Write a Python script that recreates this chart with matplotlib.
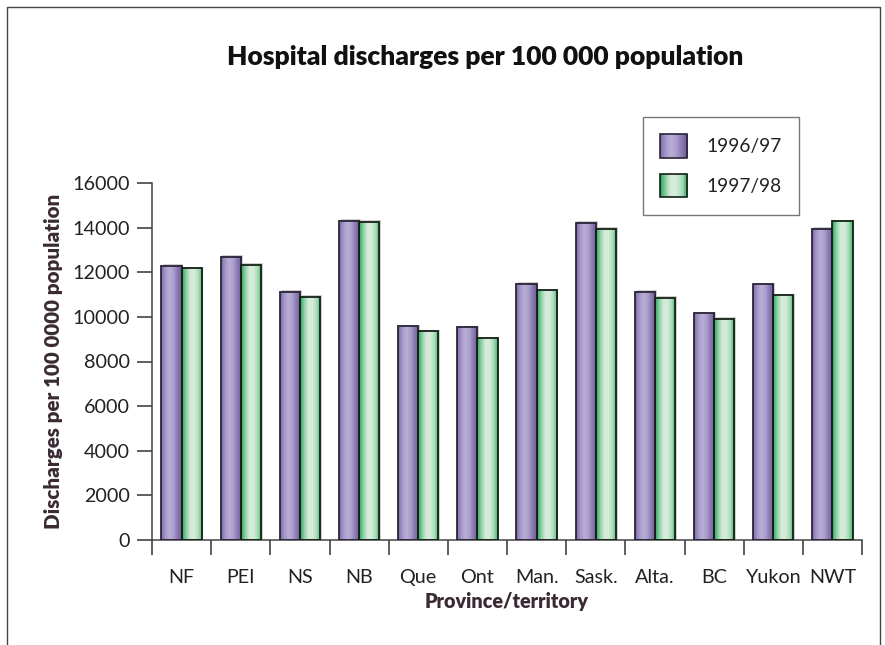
import numpy as np
import matplotlib
matplotlib.use("Agg")
import matplotlib.pyplot as plt
from matplotlib.colors import LinearSegmentedColormap
from matplotlib.patches import Rectangle
from matplotlib.legend_handler import HandlerBase
from matplotlib.lines import Line2D

categories = ["NF", "PEI", "NS", "NB", "Que", "Ont", "Man.", "Sask.", "Alta.", "BC", "Yukon", "NWT"]
series_names = ["1996/97", "1997/98"]
values_9697 = [12300, 12700, 11130, 14310, 9580, 9550, 11490, 14220, 11130, 10160, 11460, 13950]
values_9798 = [12170, 12340, 10900, 14270, 9370, 9040, 11190, 13950, 10860, 9920, 10970, 14300]
yticks = [0, 2000, 4000, 6000, 8000, 10000, 12000, 14000, 16000]

title = "Hospital discharges per 100 000 population"
ylabel = "Discharges per 100 0000 population"
xlabel = "Province/territory"

purple_stops = ["#7d6aa6", "#a597c8", "#b9aed6", "#ab9fcc", "#8a78b2", "#6e5c98"]
green_stops = ["#22a75e", "#8fd0a6", "#d3ebd9", "#d5ecd9", "#a9dcb8", "#3fb374"]
cmaps = [LinearSegmentedColormap.from_list("p", purple_stops),
         LinearSegmentedColormap.from_list("g", green_stops)]
edgecols = ["#2a2438", "#152015"]
label_col = "#3a2a33"

plt.rcParams['font.family'] = ['Lato', 'DejaVu Sans']

fig = plt.figure(figsize=(8.85, 6.45), dpi=100)
ax = fig.add_axes([152/885, 1-540/645, (862-152)/885, (540-183)/645])

x = np.arange(len(categories))
w = 0.34
grad = np.linspace(0, 1, 64).reshape(1, -1)

for k, vals in enumerate([values_9697, values_9798]):
    offs = -w/2 if k == 0 else w/2
    bars = ax.bar(x + offs, vals, width=w, facecolor="none", edgecolor=edgecols[k],
                  linewidth=1.3, zorder=3)
    for b in bars:
        bx, by = b.get_x(), b.get_y()
        bw, bh = b.get_width(), b.get_height()
        ax.add_patch(Rectangle((bx + 0.03, by), bw, bh + 60, facecolor="#d0d0d0",
                               edgecolor="none", zorder=1))
        ax.imshow(grad, cmap=cmaps[k], aspect="auto", extent=(bx, bx + bw, by, by + bh),
                  zorder=2, interpolation="bilinear")

ax.set_xlim(-0.5, len(categories) - 0.5)
ax.set_ylim(0, 16000)
ax.set_yticks(yticks)
ax.set_yticklabels([str(v) for v in yticks])
ax.set_xticks(np.arange(len(categories) + 1) - 0.5)
ax.set_xticklabels([])
ax.set_xticks(x, minor=True)
ax.set_xticklabels(categories, minor=True)

ax.tick_params(axis="y", which="major", length=11, width=1.1, direction="out",
               labelsize=14.2, pad=5, color="#333333", labelcolor="#222222")
ax.tick_params(axis="x", which="major", length=11, width=1.1, direction="out", color="#333333")
ax.tick_params(axis="x", which="minor", length=0, labelsize=14.2, pad=21, labelcolor="#222222")

for s in ["top", "right"]:
    ax.spines[s].set_visible(False)
for s in ["left", "bottom"]:
    ax.spines[s].set_color("#444444")
    ax.spines[s].set_linewidth(1.1)

ax.set_ylabel(ylabel, fontsize=14.8, fontweight="heavy", labelpad=7, color=label_col)
ax.set_xlabel(xlabel, fontsize=14.2, fontweight="heavy", labelpad=4, color=label_col)

fig.text(485/885, 1-57/645, title, fontsize=19, fontweight="heavy", ha="center", va="center",
         color="#111111")


class GradHandler(HandlerBase):
    def __init__(self, cmap, edge):
        super().__init__()
        self.cmap = cmap
        self.edge = edge

    def create_artists(self, legend, orig_handle, xdescent, ydescent, width, height, fontsize, trans):
        arts = []
        n = 30
        for i in range(n):
            r = Rectangle((-xdescent + width * i / n, -ydescent), width / n + 0.3, height,
                          facecolor=self.cmap((i + 0.5) / n), edgecolor="none", transform=trans)
            arts.append(r)
        arts.append(Rectangle((-xdescent, -ydescent), width, height, facecolor="none",
                              edgecolor=self.edge, linewidth=1.2, transform=trans))
        return arts


h1 = Line2D([], [])
h2 = Line2D([], [])
leg = fig.legend([h1, h2], series_names, loc="upper left",
                 bbox_to_anchor=(643/885, 1-117/645),
                 handler_map={h1: GradHandler(cmaps[0], edgecols[0]),
                              h2: GradHandler(cmaps[1], edgecols[1])},
                 fontsize=13.8, frameon=True, fancybox=False, handlelength=1.4, handleheight=1.5,
                 labelspacing=0.85, handletextpad=1.0, borderpad=0.9, borderaxespad=0)
leg.get_frame().set_edgecolor("#555555")
leg.get_frame().set_linewidth(1.0)
for t in leg.get_texts():
    t.set_color("#222222")

fig.add_artist(Line2D([7/885, 7/885, 880/885, 880/885], [0, 1-7/645, 1-7/645, 0],
                      transform=fig.transFigure, color="#444444", linewidth=1.0))

fig.savefig("out.png", dpi=100)
